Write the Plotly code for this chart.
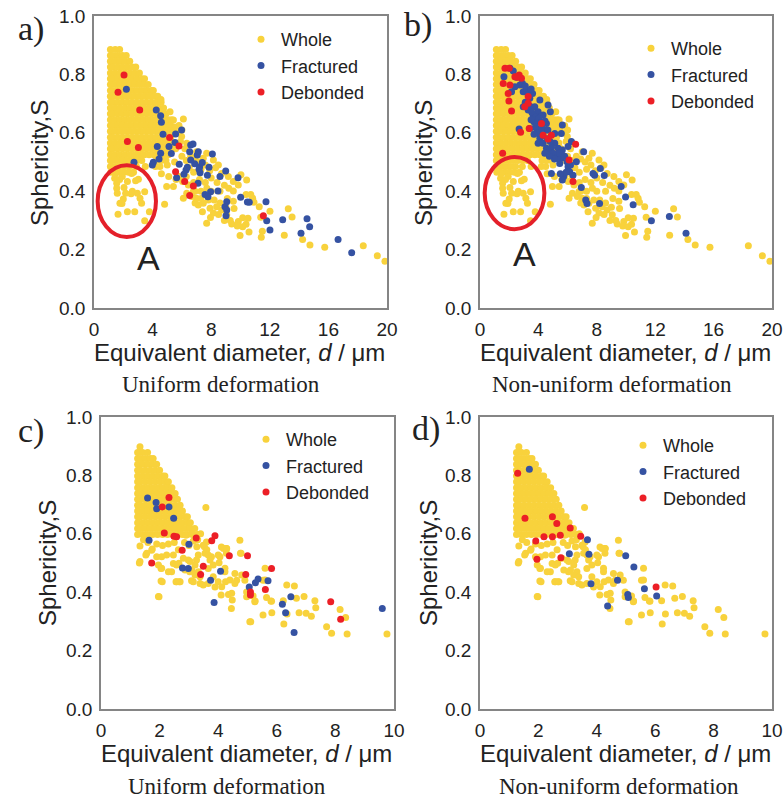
import plotly.graph_objects as go

# ---------------------------------------------------------------------------
# Data: equivalent diameter d (µm) and sphericity S of particles
# ---------------------------------------------------------------------------

# "Whole" particles of the 0-20 µm population (panels a and b).
# Dense core written row by row as (S, [d, d, ...]).
whole_ab_core = [
    (0.885, [1.12, 1.45, 1.75]),
    (0.865, [1.12, 1.28, 1.61, 1.94, 2.2]),
    (0.845, [1.12, 1.45, 1.78, 2.11, 2.44]),
    (0.825, [1.12, 1.28, 1.61, 1.94, 2.27, 2.6, 2.85]),
    (0.805, [1.12, 1.45, 1.78, 2.11, 2.44, 2.77, 3.1]),
    (0.785, [1.12, 1.28, 1.61, 1.94, 2.27, 2.6, 2.93, 3.26, 3.45]),
    (0.765, [1.12, 1.45, 1.78, 2.11, 2.44, 2.77, 3.1, 3.43, 3.7]),
    (0.745, [1.12, 1.28, 1.61, 1.94, 2.27, 2.6, 2.93, 3.26, 3.59, 3.92, 4.05]),
    (0.725, [1.12, 1.45, 1.78, 2.11, 2.44, 2.77, 3.1, 3.43, 3.76, 4.09, 4.35]),
    (0.705, [1.12, 1.28, 1.61, 1.94, 2.27, 2.6, 2.93, 3.26, 3.59, 3.92, 4.25, 4.58]),
    (0.685, [1.12, 1.45, 1.78, 2.11, 2.44, 2.77, 3.1, 3.43, 3.76, 4.09, 4.42, 4.75]),
    (0.665, [1.12, 1.28, 1.61, 1.94, 2.27, 2.6, 2.93, 3.26, 3.59, 3.92, 4.25, 4.58, 4.91]),
    (0.645, [1.12, 1.45, 1.78, 2.11, 2.44, 2.77, 3.1, 3.43, 3.76, 4.09, 4.42, 4.75, 5.08, 5.3]),
    (0.625, [1.12, 1.28, 1.61, 1.94, 2.27, 2.6, 2.93, 3.26, 3.59, 3.92, 4.25, 4.58, 4.91, 5.24]),
    (0.605, [1.12, 1.45, 1.78, 2.11, 2.44, 2.77, 3.1, 3.43, 3.76, 4.09, 4.42, 4.75, 5.08, 5.41]),
    (0.585, [1.12, 1.28, 1.61, 1.94, 2.27, 2.6, 2.93, 3.26, 3.59, 3.92, 4.25, 4.58, 4.91, 5.24]),
    (0.565, [1.12, 1.45, 1.78, 2.11, 2.44, 2.77, 3.1, 3.43, 3.76, 4.09, 4.42, 4.75, 5.08, 5.41]),
    (0.545, [1.12, 1.28, 1.61, 1.94, 2.27, 2.6, 2.93, 3.26, 3.59, 3.92, 4.25, 4.58, 4.91, 5.24, 5.57]),
    (0.525, [1.12, 1.45, 1.78, 2.11, 2.44, 2.77, 3.1, 3.43, 3.76, 4.09, 4.42, 4.75, 5.08]),
    (0.505, [1.12, 1.28, 1.61, 1.94, 2.27, 2.6, 2.93, 3.26, 4.25, 4.58, 4.91]),
    (0.485, [1.12, 1.45, 1.78, 2.11, 2.44, 2.9, 3.5, 4.2, 4.5]),
    (0.465, [1.15, 1.4, 1.7, 2.0, 2.35, 2.7]),
]

# Scattered "Whole" particles (d, S), 0-20 µm population
whole_ab_sparse = [
    # low-sphericity fine particles (region A)
    (1.41, 0.444), (1.55, 0.427), (1.55, 0.41), (1.59, 0.393), (1.64, 0.321),
    (1.77, 0.359), (1.91, 0.358), (1.93, 0.45), (2.0, 0.373), (2.05, 0.413),
    (2.16, 0.393), (2.28, 0.433), (2.28, 0.33), (2.53, 0.391), (2.62, 0.40),
    (2.78, 0.33), (2.84, 0.436), (2.96, 0.393), (3.03, 0.441), (3.14, 0.376),
    (3.25, 0.359), (3.46, 0.398), (3.46, 0.299), (3.78, 0.33), (1.45, 0.46),
    (1.75, 0.44), (2.57, 0.461),
    # tail of the distribution
    (4.57, 0.714), (5.19, 0.672), (5.42, 0.644), (6.10, 0.647), (5.98, 0.587),
    (6.33, 0.564), (7.0, 0.535), (7.46, 0.513), (7.69, 0.530), (8.15, 0.507),
    (8.49, 0.49), (8.71, 0.461), (9.17, 0.45), (9.51, 0.433), (10.03, 0.456),
    (10.42, 0.438), (9.85, 0.421), (9.51, 0.401), (10.38, 0.389), (10.7, 0.389),
    (10.83, 0.376), (10.92, 0.362), (9.51, 0.366), (9.56, 0.341), (11.28, 0.347),
    (12.01, 0.331), (13.26, 0.340), (13.52, 0.312), (11.38, 0.311), (10.15, 0.309),
    (10.51, 0.307), (9.85, 0.296), (9.4, 0.288), (9.78, 0.281), (10.15, 0.278),
    (10.38, 0.287), (10.58, 0.26), (9.97, 0.248), (11.49, 0.263), (11.42, 0.242),
    (12.99, 0.249), (14.24, 0.235), (14.74, 0.216), (15.75, 0.208), (18.38, 0.213),
    (19.34, 0.179), (19.86, 0.160),
    (9.06, 0.319), (8.71, 0.336), (8.37, 0.347), (8.15, 0.325), (7.69, 0.290),
    (7.92, 0.342), (7.46, 0.359), (7.12, 0.353), (7.0, 0.376), (6.67, 0.382),
    (6.33, 0.393), (6.10, 0.376), (6.78, 0.399), (6.44, 0.421), (6.05, 0.433),
    (5.42, 0.416), (4.96, 0.416), (4.82, 0.355),
    (5.5, 0.62), (5.8, 0.625), (5.7, 0.6), (6.0, 0.61), (5.9, 0.57), (6.2, 0.545),
    (6.6, 0.52), (6.0, 0.52), (6.3, 0.505), (6.9, 0.51), (7.2, 0.5), (6.5, 0.48),
    (6.8, 0.465), (7.3, 0.475), (7.6, 0.49), (7.9, 0.47), (8.3, 0.48), (8.0, 0.445),
    (8.4, 0.43), (7.6, 0.43), (7.2, 0.44), (6.8, 0.43), (6.3, 0.45), (5.8, 0.45),
    (5.1, 0.45), (4.6, 0.46), (5.0, 0.49), (5.5, 0.5), (5.6, 0.44), (6.9, 0.40),
    (7.3, 0.40), (7.7, 0.41), (8.0, 0.40), (8.6, 0.40), (8.9, 0.42), (9.2, 0.41),
    (7.3, 0.375), (7.8, 0.37), (8.2, 0.37), (8.6, 0.36), (9.1, 0.375), (9.0, 0.345),
    (8.5, 0.32), (9.3, 0.30), (8.9, 0.30), (7.95, 0.31), (7.4, 0.33), (6.9, 0.36),
]

# Fractured / debonded particles, uniform deformation (panel a)
frac_a = [
    (2.21, 0.749), (4.25, 0.678), (4.55, 0.658), (4.60, 0.636), (4.71, 0.595),
    (5.98, 0.610), (5.57, 0.596), (5.12, 0.553), (5.53, 0.567), (5.28, 0.529),
    (4.32, 0.553), (4.55, 0.530), (4.44, 0.510), (4.05, 0.499), (3.98, 0.490),
    (2.73, 0.499), (6.6, 0.558), (6.76, 0.562), (6.53, 0.535), (7.12, 0.535),
    (7.05, 0.524), (6.87, 0.494), (6.6, 0.507), (5.82, 0.492), (5.64, 0.446),
    (6.14, 0.458), (6.28, 0.473), (6.37, 0.482), (7.21, 0.484), (7.24, 0.463),
    (7.17, 0.475), (7.39, 0.498), (8.08, 0.527), (7.85, 0.482), (7.74, 0.455),
    (7.1, 0.427), (7.96, 0.398), (7.58, 0.389), (7.78, 0.381), (8.46, 0.401),
    (8.99, 0.469), (8.6, 0.45), (9.83, 0.446), (9.06, 0.364), (8.94, 0.347),
    (9.06, 0.336), (9.01, 0.316), (10.01, 0.379), (10.47, 0.363), (10.6, 0.362),
    (11.74, 0.364), (11.79, 0.299), (12.01, 0.267), (12.88, 0.302), (14.54, 0.306),
    (14.72, 0.278), (14.13, 0.256), (16.66, 0.235), (17.59, 0.189),
]
deb_a = [
    (2.05, 0.798), (1.64, 0.739), (3.12, 0.678), (2.28, 0.570), (3.03, 0.550),
    (5.16, 0.584), (5.80, 0.555), (5.57, 0.467), (6.19, 0.433), (6.78, 0.418),
    (6.53, 0.385), (11.56, 0.316),
]

# Fractured / debonded particles, non-uniform deformation (panel b)
frac_b = [
    (1.64, 0.792), (2.05, 0.821), (2.28, 0.812), (2.16, 0.741), (2.73, 0.764),
    (2.96, 0.741), (3.19, 0.747), (3.6, 0.735), (3.41, 0.718), (4.1, 0.712),
    (4.66, 0.695), (2.96, 0.689), (3.3, 0.678), (3.75, 0.689), (3.98, 0.672),
    (3.64, 0.661), (4.32, 0.661), (4.82, 0.672), (4.55, 0.632), (3.98, 0.638),
    (3.69, 0.638), (2.68, 0.613), (3.41, 0.615), (3.87, 0.615), (4.55, 0.61),
    (5.64, 0.627), (5.12, 0.598), (5.57, 0.598), (4.1, 0.581), (3.98, 0.564),
    (4.32, 0.564), (4.55, 0.547), (4.78, 0.541), (4.44, 0.530), (5.12, 0.564),
    (5.35, 0.547), (5.23, 0.526), (5.64, 0.541), (6.03, 0.553), (6.26, 0.570),
    (5.57, 0.513), (5.96, 0.501), (5.46, 0.495), (6.6, 0.501), (6.03, 0.484),
    (6.14, 0.467), (6.37, 0.455), (5.73, 0.45), (5.64, 0.438), (4.89, 0.461),
    (7.1, 0.535), (6.94, 0.413), (7.24, 0.370), (7.33, 0.358), (7.85, 0.455),
    (8.24, 0.478), (8.19, 0.358), (7.74, 0.461), (8.51, 0.454), (9.67, 0.416),
    (9.97, 0.380), (10.49, 0.354), (11.74, 0.299), (12.97, 0.313), (14.11, 0.256),
    (2.5, 0.79), (2.9, 0.77), (3.1, 0.76), (3.3, 0.73), (3.5, 0.75), (3.1, 0.705),
    (3.45, 0.69), (3.55, 0.67), (3.85, 0.655), (4.05, 0.65), (4.2, 0.635),
    (3.8, 0.62), (4.0, 0.60), (4.3, 0.59), (4.25, 0.615), (4.6, 0.58), (4.8, 0.57),
    (4.9, 0.55), (5.0, 0.53), (5.3, 0.515), (5.45, 0.53), (5.1, 0.51), (4.75, 0.52),
    (5.8, 0.52), (5.9, 0.465), (6.2, 0.49), (5.5, 0.46), (3.7, 0.595), (3.5, 0.645),
    (4.45, 0.64), (4.65, 0.61), (2.39, 0.758),
]
deb_b = [
    (1.71, 0.821), (2.0, 0.821), (1.59, 0.769), (2.05, 0.764), (1.93, 0.735),
    (1.98, 0.709), (2.16, 0.675), (2.39, 0.792), (2.68, 0.798), (2.84, 0.787),
    (2.55, 0.79), (3.3, 0.724), (3.3, 0.701), (3.07, 0.689), (2.78, 0.602),
    (3.37, 0.615), (4.21, 0.632), (4.32, 0.592), (4.66, 0.579), (4.89, 0.592),
    (6.55, 0.561), (6.1, 0.507), (6.37, 0.433), (1.55, 0.530),
]

# "Whole" particles of the 0-10 µm population (panels c and d)
whole_cd_core = [
    (0.898, [1.33]),
    (0.878, [1.25, 1.42, 1.59]),
    (0.858, [1.25, 1.34, 1.51, 1.68, 1.78]),
    (0.838, [1.25, 1.42, 1.59, 1.76, 1.9]),
    (0.818, [1.25, 1.34, 1.51, 1.68, 1.85, 2.0]),
    (0.798, [1.25, 1.42, 1.59, 1.76, 1.93, 2.1, 2.18]),
    (0.778, [1.25, 1.34, 1.51, 1.68, 1.85, 2.02, 2.19, 2.3]),
    (0.758, [1.25, 1.42, 1.59, 1.76, 1.93, 2.1, 2.27, 2.42]),
    (0.738, [1.25, 1.34, 1.51, 1.68, 1.85, 2.02, 2.19, 2.36, 2.53]),
    (0.718, [1.25, 1.42, 1.59, 1.76, 1.93, 2.1, 2.27, 2.44, 2.61]),
    (0.698, [1.25, 1.34, 1.51, 1.68, 1.85, 2.02, 2.19, 2.36, 2.53, 2.7]),
    (0.678, [1.25, 1.42, 1.59, 1.76, 1.93, 2.1, 2.27, 2.44, 2.61, 2.78]),
    (0.658, [1.25, 1.34, 1.51, 1.68, 1.85, 2.02, 2.19, 2.36, 2.53, 2.7, 2.87, 2.95]),
    (0.638, [1.25, 1.42, 1.59, 1.76, 1.93, 2.1, 2.27, 2.44, 2.61, 2.78, 2.95, 3.05]),
    (0.618, [1.25, 1.34, 1.51, 1.68, 1.85, 2.02, 2.19, 2.36, 2.53, 2.7, 2.87, 3.04, 3.2]),
    (0.598, [1.25, 1.42, 1.59, 1.76, 1.93, 2.1, 2.27, 2.44, 2.61, 2.78, 2.95, 3.12, 3.29]),
]
whole_cd_sparse = [
    (1.31, 0.50), (1.33, 0.558), (1.33, 0.505), (1.53, 0.527), (1.56, 0.533),
    (1.73, 0.544), (1.75, 0.548), (1.9, 0.521), (2.07, 0.521), (2.24, 0.527),
    (2.05, 0.481), (2.09, 0.436), (1.98, 0.384), (2.47, 0.527), (2.47, 0.498),
    (2.58, 0.493), (2.67, 0.436), (2.56, 0.436), (2.98, 0.51), (3.03, 0.47),
    (3.09, 0.439), (3.26, 0.51), (3.32, 0.47), (3.38, 0.43), (3.49, 0.561),
    (3.55, 0.533), (3.6, 0.572), (3.58, 0.690), (3.66, 0.481), (3.77, 0.521),
    (3.83, 0.453), (3.89, 0.418), (4.0, 0.436), (4.06, 0.521), (4.11, 0.555),
    (4.28, 0.533), (4.28, 0.55), (4.35, 0.392), (4.45, 0.344), (4.57, 0.464),
    (4.63, 0.441), (4.74, 0.578), (4.76, 0.533), (4.91, 0.441), (4.97, 0.401),
    (4.97, 0.384), (5.08, 0.299), (5.19, 0.387), (5.25, 0.367), (5.6, 0.482),
    (5.6, 0.442), (5.53, 0.441), (5.65, 0.382), (5.8, 0.37), (5.26, 0.37),
    (5.82, 0.369), (5.53, 0.322), (5.83, 0.33), (6.22, 0.371), (6.24, 0.291),
    (6.35, 0.325), (6.34, 0.425), (6.6, 0.421), (6.67, 0.379), (6.76, 0.330),
    (6.93, 0.385), (7.0, 0.328), (7.18, 0.318), (7.3, 0.371), (7.33, 0.347),
    (7.7, 0.282), (7.87, 0.259), (8.16, 0.341), (8.35, 0.313), (8.4, 0.257),
    (9.76, 0.257), (5.11, 0.299),
    (2.64, 0.545), (2.66, 0.499), (2.81, 0.516), (3.04, 0.505), (3.21, 0.493),
    (3.1, 0.476), (2.87, 0.476), (2.58, 0.436), (2.7, 0.436), (3.21, 0.459),
    (3.15, 0.436), (3.38, 0.453), (3.49, 0.425), (3.66, 0.43), (3.53, 0.556),
    (3.61, 0.545), (3.66, 0.527), (3.72, 0.51), (4.0, 0.527), (4.03, 0.501),
    (3.83, 0.493), (4.18, 0.55), (4.29, 0.55), (4.23, 0.482), (4.23, 0.47),
    (4.12, 0.419), (4.25, 0.436), (4.4, 0.442), (4.57, 0.43), (4.78, 0.533),
    (4.46, 0.396), (4.48, 0.373), (4.8, 0.459), (4.1, 0.39), (3.27, 0.556),
    (3.32, 0.527), (2.41, 0.47), (2.3, 0.47), (1.96, 0.493), (2.07, 0.482),
    (2.05, 0.438), (1.96, 0.385),
    (2.7, 0.6), (2.9, 0.595), (3.1, 0.6), (3.3, 0.58), (3.4, 0.6), (2.85, 0.57),
    (3.0, 0.56), (3.15, 0.575), (2.5, 0.57), (2.3, 0.565), (2.1, 0.56), (1.9, 0.565),
    (1.6, 0.57), (1.45, 0.58),
]

# Fractured / debonded particles, uniform deformation (panel c)
frac_c = [
    (1.59, 0.723), (1.88, 0.707), (1.9, 0.686), (2.32, 0.692), (2.48, 0.653),
    (1.64, 0.578), (3.0, 0.564), (2.78, 0.483), (2.98, 0.481), (3.74, 0.441),
    (4.08, 0.472), (3.86, 0.365), (5.06, 0.418), (5.27, 0.432), (5.36, 0.445),
    (5.7, 0.439), (6.19, 0.359), (6.48, 0.384), (6.3, 0.33), (6.59, 0.262),
    (9.6, 0.344),
]
deb_c = [
    (2.32, 0.724), (2.09, 0.692), (2.16, 0.603), (2.49, 0.592), (2.58, 0.59),
    (3.25, 0.586), (3.89, 0.593), (3.78, 0.576), (2.77, 0.544), (1.73, 0.5),
    (3.49, 0.489), (3.4, 0.461), (4.38, 0.525), (5.0, 0.525), (4.94, 0.461),
    (5.1, 0.401), (5.1, 0.39), (5.61, 0.409), (5.82, 0.481), (7.84, 0.367),
    (8.18, 0.307),
]

# Fractured / debonded particles, non-uniform deformation (panel d)
frac_d = [
    (1.69, 0.821), (3.68, 0.58), (3.06, 0.532), (3.73, 0.530), (3.8, 0.429),
    (4.37, 0.353), (4.71, 0.441), (4.99, 0.525), (5.27, 0.486), (5.06, 0.392),
    (5.08, 0.382), (5.63, 0.412), (6.05, 0.387),
]
deb_d = [
    (1.29, 0.807), (1.54, 0.653), (1.91, 0.575), (1.95, 0.513), (2.19, 0.59),
    (2.48, 0.658), (2.63, 0.635), (2.48, 0.59), (2.75, 0.595), (2.77, 0.518),
    (3.09, 0.62), (3.45, 0.592), (6.03, 0.418),
]

series_names = ["Whole", "Fractured", "Debonded"]
x_ticks_ab = [0, 4, 8, 12, 16, 20]
x_ticks_cd = [0, 2, 4, 6, 8, 10]
y_ticks = [0.0, 0.2, 0.4, 0.6, 0.8, 1.0]
panel_letters = ["a)", "b)", "c)", "d)"]
subtitles = ["Uniform deformation", "Non-uniform deformation",
             "Uniform deformation", "Non-uniform deformation"]

# ---------------------------------------------------------------------------
# Styling
# ---------------------------------------------------------------------------
W, H = 784, 799
YELLOW, BLUE, RED = "#F8D23C", "#3552A2", "#EC1F26"
TEXT = "#222222"
FRAME = "#858585"
SANS = "Liberation Sans, Arial, sans-serif"
SERIF = "Liberation Serif, Times New Roman, serif"
MS = 7


def px_x(v):
    return v / W


def px_y(v):
    return 1 - v / H


def flatten_core(rows):
    xs, ys = [], []
    for s, ds in rows:
        for d in ds:
            xs.append(d)
            ys.append(s)
    return xs, ys


def split(pairs):
    return [p[0] for p in pairs], [p[1] for p in pairs]


core_ab = flatten_core(whole_ab_core)
sparse_ab = split(whole_ab_sparse)
whole_ab = (core_ab[0] + sparse_ab[0], core_ab[1] + sparse_ab[1])
core_cd = flatten_core(whole_cd_core)
sparse_cd = split(whole_cd_sparse)
whole_cd = (core_cd[0] + sparse_cd[0], core_cd[1] + sparse_cd[1])

# panel geometry in pixels: (left, right, top, bottom)
boxes = [(94, 387, 16, 308), (480, 772, 16, 308),
         (101, 394, 417, 709), (480, 772, 417, 709)]

panels = [
    dict(whole=whole_ab, frac=split(frac_a), deb=split(deb_a), xr=20, xt=x_ticks_ab),
    dict(whole=whole_ab, frac=split(frac_b), deb=split(deb_b), xr=20, xt=x_ticks_ab),
    dict(whole=whole_cd, frac=split(frac_c), deb=split(deb_c), xr=10, xt=x_ticks_cd),
    dict(whole=whole_cd, frac=split(frac_d), deb=split(deb_d), xr=10, xt=x_ticks_cd),
]

# legend anchors (left, top) in px
legend_pos = [(241, 21), (631, 30), (246, 421), (623, 427)]

fig = go.Figure()
layout = dict(
    width=W, height=H, margin=dict(l=0, r=0, t=0, b=0, pad=0), autosize=False,
    paper_bgcolor="white", plot_bgcolor="white", showlegend=True,
)

for i, p in enumerate(panels):
    n = "" if i == 0 else str(i + 1)
    xa, ya = "x" + n, "y" + n
    leg = "legend" + n
    colors = [YELLOW, BLUE, RED]
    data = [p["whole"], p["frac"], p["deb"]]
    for name, (xs, ys), c in zip(series_names, data, colors):
        fig.add_trace(go.Scatter(
            x=xs, y=ys, mode="markers", name=name,
            marker=dict(size=MS, color=c, line=dict(width=0)),
            xaxis=xa, yaxis=ya, legend=leg, showlegend=True,
        ))
    l, r, t, b = boxes[i]
    axis_common = dict(
        showline=True, mirror=True, linecolor=FRAME, linewidth=1.6,
        showgrid=False, zeroline=False, ticks="", automargin=False,
        tickfont=dict(family=SANS, size=19, color=TEXT),
    )
    layout["xaxis" + n] = dict(
        axis_common, domain=[px_x(l), px_x(r)], range=[0, p["xr"]],
        tickvals=p["xt"], anchor=ya, ticklabelstandoff=3,
    )
    layout["yaxis" + n] = dict(
        axis_common, domain=[px_y(b), px_y(t)], range=[0, 1],
        tickvals=y_ticks, tickformat=".1f", anchor=xa, ticklabelstandoff=3,
    )
    lx, ly = legend_pos[i]
    layout[leg] = dict(
        x=px_x(lx), y=px_y(ly), xanchor="left", yanchor="top",
        xref="paper", yref="paper", bgcolor="rgba(0,0,0,0)",
        font=dict(family=SANS, size=18, color=TEXT), tracegroupgap=0,
        itemsizing="trace",
    )

annotations = []
# panel letters
letter_pos = [(31, 29), (418, 25), (31, 431), (426, 429)]
for txt, (x, y) in zip(panel_letters, letter_pos):
    annotations.append(dict(
        text=txt, x=px_x(x), y=px_y(y), xref="paper", yref="paper",
        xanchor="center", yanchor="middle", showarrow=False,
        font=dict(family=SERIF, size=34, color=TEXT),
    ))
# deformation captions
sub_pos = [(221, 384), (612, 384), (227, 786), (619, 786)]
for txt, (x, y) in zip(subtitles, sub_pos):
    annotations.append(dict(
        text=txt, x=px_x(x), y=px_y(y), xref="paper", yref="paper",
        xanchor="center", yanchor="middle", showarrow=False,
        font=dict(family=SERIF, size=23, color=TEXT),
    ))
# axis titles
xt_pos = [(239, 352), (625, 352), (247, 753), (625, 753)]
for x, y in xt_pos:
    annotations.append(dict(
        text="Equivalent diameter, <i>d</i> / μm", x=px_x(x), y=px_y(y),
        xref="paper", yref="paper", xanchor="center", yanchor="middle",
        showarrow=False, font=dict(family=SANS, size=24, color=TEXT),
    ))
yt_pos = [(40, 163), (424, 163), (47, 563), (428, 563)]
for x, y in yt_pos:
    annotations.append(dict(
        text="Sphericity,S", x=px_x(x), y=px_y(y), textangle=-90,
        xref="paper", yref="paper", xanchor="center", yanchor="middle",
        showarrow=False, font=dict(family=SANS, size=24, color=TEXT),
    ))
# region "A" labels (data coordinates)
annotations.append(dict(text="A", x=3.69, y=0.171, xref="x", yref="y",
                        showarrow=False, font=dict(family=SANS, size=34, color=TEXT)))
annotations.append(dict(text="A", x=3.07, y=0.185, xref="x2", yref="y2",
                        showarrow=False, font=dict(family=SANS, size=34, color=TEXT)))

shapes = [
    dict(type="circle", xref="x", yref="y", x0=0.25, x1=4.23, y0=0.243, y1=0.489,
         line=dict(color="#E4202A", width=4)),
    dict(type="circle", xref="x2", yref="y2", x0=0.32, x1=4.41, y0=0.270, y1=0.517,
         line=dict(color="#E4202A", width=4)),
]

layout["annotations"] = annotations
layout["shapes"] = shapes
fig.update_layout(**layout)

# the page body should not add its own margin around the figure
page_fix = ("document.documentElement.style.margin='0';"
            "document.body.style.margin='0';document.body.style.padding='0';"
            "document.body.style.overflow='hidden';")
fig.write_html("out.html", post_script=page_fix)
